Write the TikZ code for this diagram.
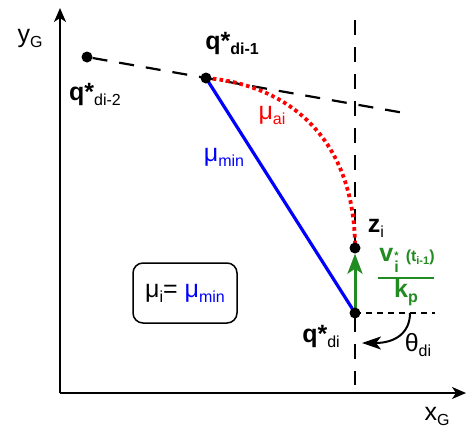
\documentclass[tikz,border=0pt]{standalone}
\usepackage{fontspec}
\setmainfont{Liberation Sans}
\usetikzlibrary{arrows.meta}
\newcommand\bigf{\fontsize{25}{25}\selectfont}
\newcommand\subf{\fontsize{16}{16}\selectfont}
\newcommand\lowsub[1]{\raisebox{-5pt}{\subf #1}}
\definecolor{mygreen}{RGB}{34,139,34}
\pgfdeclarelayer{bg}
\pgfsetlayers{bg,main}
\begin{document}
\begin{tikzpicture}[x=1pt,y=-1pt,font=\bigf,inner sep=0pt,
  dot/.style={circle,fill=black,minimum size=11pt,inner sep=0pt},
  axis/.style={line width=2pt,-{Stealth[length=14pt,width=12pt,inset=4pt]}},
  longdash/.style={line width=2.2pt,dash pattern=on 15pt off 12pt},
  shortdash/.style={line width=2pt,dash pattern=on 6pt off 5pt},
  lbl/.style={anchor=center}]
\useasboundingbox (0,0) rectangle (466,432);
% positions
\coordinate (O) at (60,393);
\coordinate (ytip) at (60,8);
\coordinate (xtip) at (466,393);
\coordinate (dend) at (410,114);
\coordinate (vtop) at (355,20);
\coordinate (vbot) at (355,385);
\coordinate (hend) at (435,313);
\coordinate (arcstart) at (410,313);
\coordinate (arcend) at (362,343);
\coordinate (fl) at (378,278);
\coordinate (fr) at (434,278);
% dots
\node[dot] (q2) at (87,57) {};
\node[dot] (q1) at (206,78) {};
\node[dot] (z) at (355,248) {};
\node[dot] (q) at (355,313) {};
\begin{pgfonlayer}{bg}
\draw[axis] (O) -- (ytip);
\draw[axis] (O) -- (xtip);
\draw[longdash] (q2) -- (dend);
\draw[longdash] (vtop) -- (vbot);
\draw[shortdash] (q.center) -- (hend);
\draw[blue,line width=3.2pt] (q1.center) -- (q.center);
\draw[red,line width=3.8pt,dash pattern=on 3.6pt off 3.2pt] (q1.center) .. controls (290,85) and (355,140) .. (z.center);
\draw[mygreen,line width=3pt,-{Stealth[length=20pt,width=15pt,inset=5pt]}] (q.center) -- (z.south);
\draw[line width=2pt,-{Stealth[length=19pt,width=13pt,inset=5pt]}] (arcstart) .. controls (410,333) and (395,343) .. (arcend);
\draw[mygreen,line width=1.4pt] (fl) -- (fr);
\end{pgfonlayer}
% labels
\node[lbl] (yl) at (30,38) {y\lowsub{G}};
\node[lbl] (xl) at (437,416) {x\lowsub{G}};
\node[lbl] (q2l) at (95,94) {\textbf{q*}\lowsub{di-2}};
\node[lbl] (q1l) at (232,43) {\bfseries q*\lowsub{di-1}};
\node[lbl,red] (mai) at (272,115) {μ\lowsub{ai}};
\node[lbl,blue] (mmin) at (224,157) {μ\lowsub{min}};
\node[lbl] (zl) at (376,228) {\textbf{z}\lowsub{i}};
\node[lbl] (ql) at (321,336) {\textbf{q*}\lowsub{di}};
\node[lbl] (thl) at (418,345) {θ\lowsub{di}};
\node[lbl,mygreen,font=\bigf\bfseries] (num) at (407,263) {v\hspace{1pt}\raisebox{-6pt}{\subf\begin{tabular}{@{}c@{}}\fontsize{11}{8}\selectfont *\\[-3pt] i\end{tabular}}\hspace{7pt}{\fontsize{16}{16}\selectfont (t\raisebox{-3pt}{\fontsize{11}{11}\selectfont i-1})}};
\node[lbl,mygreen,font=\bigf\bfseries] (den) at (406,293) {k\lowsub{p}};
\node[draw,line width=1.5pt,rounded corners=10pt,minimum width=104pt,minimum height=60pt] (box) at (185,293) {μ\lowsub{i}= \textcolor{blue}{μ\lowsub{min}}};
\end{tikzpicture}
\end{document}
